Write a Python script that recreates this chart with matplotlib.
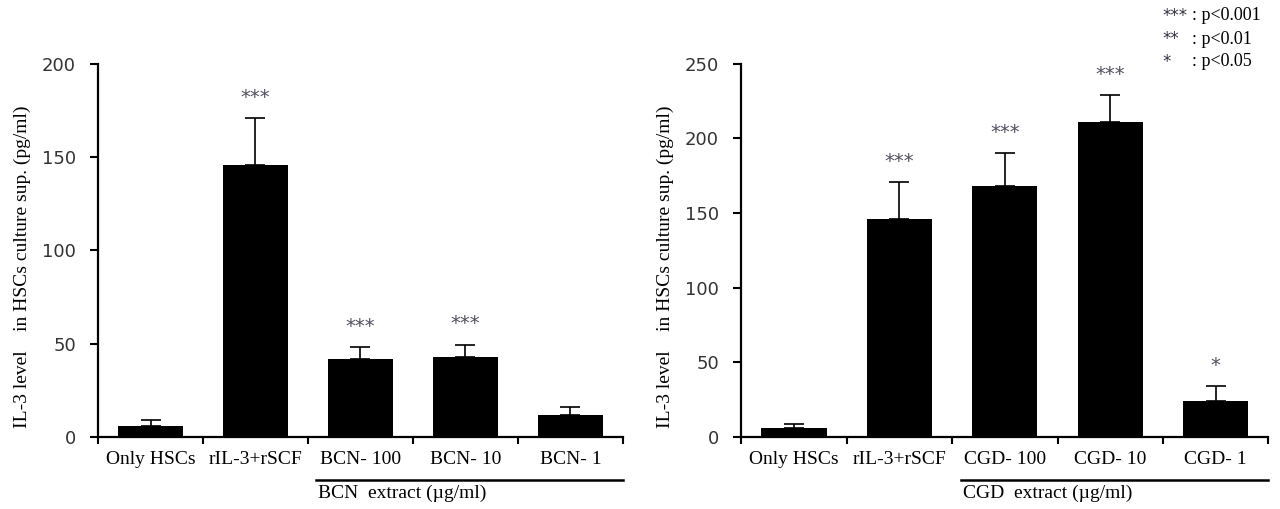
import matplotlib.pyplot as plt
import numpy as np

# data
left_cats = ["Only HSCs", "rIL-3+rSCF", "BCN- 100", "BCN- 10", "BCN- 1"]
left_vals = [6, 146, 42, 43, 12]
left_err = [3, 25, 6, 6.5, 4]
left_sig = ["", "***", "***", "***", ""]

right_cats = ["Only HSCs", "rIL-3+rSCF", "CGD- 100", "CGD- 10", "CGD- 1"]
right_vals = [6, 146, 168, 211, 24]
right_err = [2.5, 25, 22, 18, 10]
right_sig = ["", "***", "***", "***", "*"]

serif = "Liberation Serif"
sans = "DejaVu Sans"

fig = plt.figure(figsize=(12.8, 5.09), dpi=100)


def panel(rect, cats, vals, errs, sigs, ymax, step, extract):
    ax = fig.add_axes(rect)
    x = np.arange(len(cats))
    ax.bar(x, vals, width=0.62, color="black",
           yerr=[np.zeros(len(vals)), errs], capsize=7,
           error_kw=dict(ecolor="black", elinewidth=1.2, capthick=1.2))
    for xi, v, e, s in zip(x, vals, errs, sigs):
        if s:
            ax.text(xi, v + e + ymax * 0.03, s, ha="center", va="bottom",
                    fontsize=14, family=sans, color="#505060")
    ax.set_xlim(-0.5, len(cats) - 0.5)
    ax.set_ylim(0, ymax)
    ax.set_yticks(np.arange(0, ymax + 1, step))
    ax.tick_params(axis="y", direction="out", length=6, width=1.5,
                   labelsize=13, pad=10, labelcolor="#333333")
    for lab in ax.get_yticklabels():
        lab.set_family(sans)
    # ticks on category boundaries, labels at centres
    ax.set_xticks(np.arange(-0.5, len(cats), 1.0))
    ax.set_xticklabels([])
    ax.tick_params(axis="x", direction="out", length=5, width=1.5)
    for xi, c in zip(x, cats):
        ax.text(xi, -0.037 * ymax, c, ha="center", va="top",
                fontsize=14, family=serif)
    for sp in ["top", "right"]:
        ax.spines[sp].set_visible(False)
    ax.spines["left"].set_linewidth(1.6)
    ax.spines["bottom"].set_linewidth(1.6)
    ax.set_ylabel("IL-3 level    in HSCs culture sup. (pg/ml)",
                  family=serif, fontsize=14)
    # group line under extract labels
    ax.plot([1.58, 4.5], [-0.115 * ymax] * 2, color="black", lw=1.8,
            clip_on=False)
    ax.text(1.6, -0.128 * ymax, extract, ha="left", va="top",
            fontsize=14, family=serif)
    return ax


ax1 = panel([0.0766, 0.1415, 0.41, 0.733], left_cats, left_vals, left_err,
            left_sig, 200, 50, "BCN  extract (\u00b5g/ml)")
ax2 = panel([0.579, 0.1415, 0.412, 0.733], right_cats, right_vals, right_err,
            right_sig, 250, 50, "CGD  extract (\u00b5g/ml)")
ax1.yaxis.set_label_coords(-0.128, 0.455)
ax2.yaxis.set_label_coords(-0.128, 0.455)

legend_lines = [("***", ": p<0.001"), ("**", ": p<0.01"), ("*", ": p<0.05")]
for i, (st, txt) in enumerate(legend_lines):
    yy = 1 - (16 + 23 * i) / 509
    fig.text(1162 / 1280, yy, st, ha="left", va="center", fontsize=12,
             family=sans, color="#303040")
    fig.text(1192 / 1280, yy, txt, ha="left", va="center", fontsize=13,
             family=serif)

fig.savefig("out.png", dpi=100)
